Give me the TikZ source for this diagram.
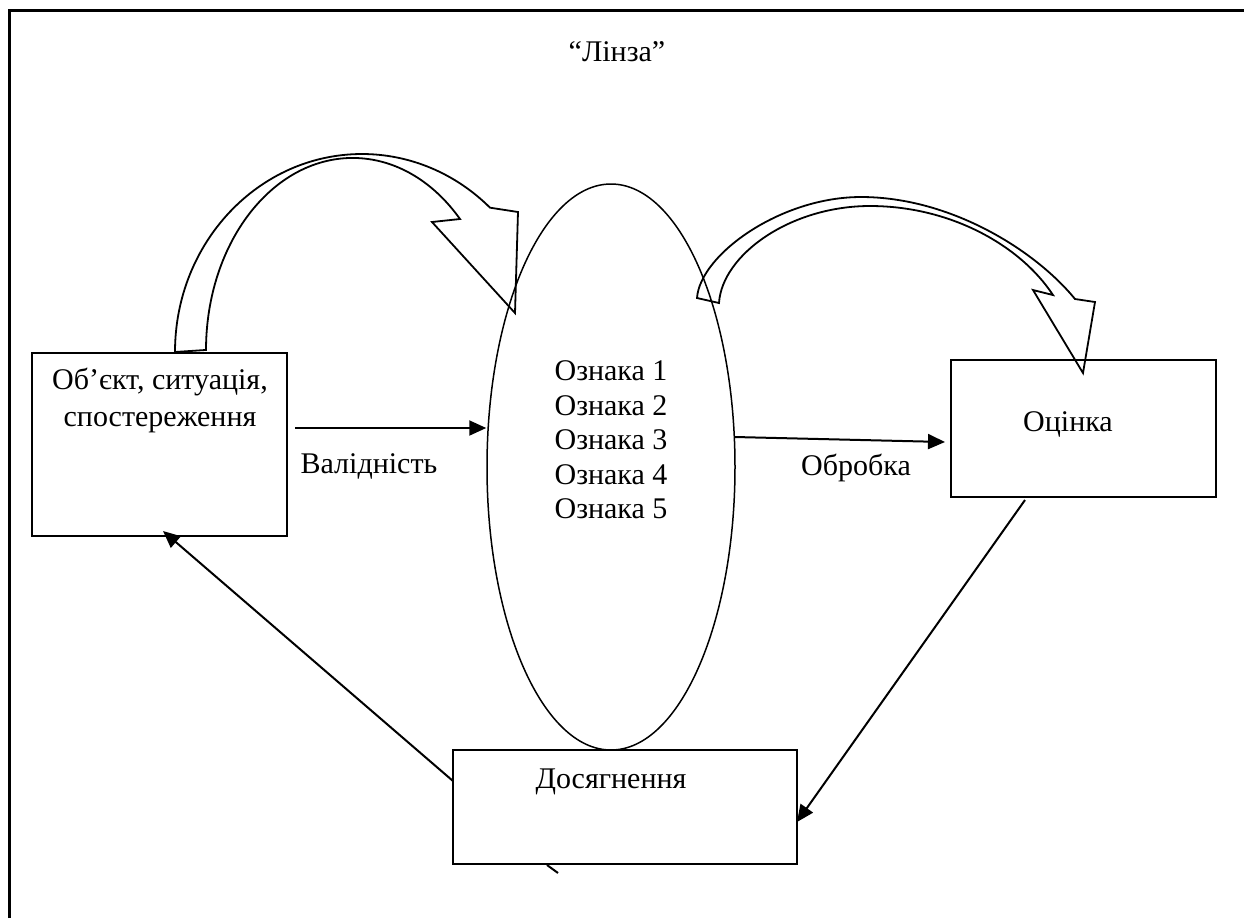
\documentclass[tikz,border=0pt]{standalone}
\usepackage{fontspec}
\setmainfont{Liberation Serif}
\usetikzlibrary{arrows.meta,shapes.geometric}
\begin{document}
\begin{tikzpicture}[x=0.5pt,y=-0.5pt,
  every node/.style={font=\fontsize{15}{17.25}\selectfont},
  boxshape/.style={draw,line width=0.75pt,inner sep=0pt},
  txt/.style={inner sep=0pt,align=center},
  arr/.style={line width=1pt,-{Triangle[length=8.5pt,width=7.5pt]}},
  blk/.style={line width=0.9pt,line join=miter}]
\useasboundingbox (0,0) rectangle (1244,918);
% frame
\draw[line width=1.5pt] (9,918) -- (9,10.5) -- (1244,10.5);
% title
\node[txt] (title) at (617,52) {“Лінза”};
% boxes
\node[boxshape,minimum width=127.5pt,minimum height=91.5pt] (obj) at (159.5,444.5) {};
\node[txt,font=\fontsize{15}{18.5}\selectfont] (objt) at (160,400) {Об’єкт, ситуація,\\спостереження};
\node[boxshape,ellipse,minimum width=124pt,minimum height=283pt] (lens) at (611,467) {};
\node[txt,align=left] (lenst) at (611,440) {Ознака 1\\Ознака 2\\Ознака 3\\Ознака 4\\Ознака 5};
\node[boxshape,minimum width=132.5pt,minimum height=68.5pt] (eval) at (1083.5,428.5) {};
\node[txt] (evalt) at (1068,424) {Оцінка};
\node[boxshape,minimum width=172pt,minimum height=57pt] (ach) at (625,807) {};
\node[txt] (acht) at (611,782) {Досягнення};
% labels
\node[txt] (val) at (369,466) {Валідність};
\node[txt] (proc) at (856,468) {Обробка};
% connectors
\coordinate (a1s) at (295,428);
\draw[arr] (a1s) -- (a1s -| lens.west);
\coordinate (a2s) at (735,437);
\coordinate (a2e) at (945,442);
\draw[arr] (a2s) -- (a2e);
\coordinate (a3s) at (1025,500);
\coordinate (a3e) at (797,822);
\draw[arr] (a3s) -- (a3e);
\coordinate (a4s) at (453,781);
\coordinate (a4e) at (163,531);
\draw[arr] (a4s) -- (a4e);
\coordinate (s1) at (547,865);
\coordinate (s2) at (558,873);
\draw[line width=1pt] (s1) -- (s2);
% curved block arrow 1
\draw[blk] (175,352) arc[start angle=180,end angle=46.8,x radius=93.5pt,y radius=99pt]
  -- (518,212) -- (515,313) -- (432,222) -- (460,219)
  arc[start angle=43,end angle=180,x radius=73.35pt,y radius=96pt] -- cycle;
% curved block arrow 2
\draw[blk] (697,298) .. controls (700,255) and (780,197) .. (861,197)
  .. controls (950,197) and (1035,250) .. (1075,299)
  -- (1095,302) -- (1083,373) -- (1033,290) -- (1053,295)
  .. controls (1020,245) and (950,206) .. (870,206)
  .. controls (790,206) and (722,255) .. (719,303) -- cycle;
\end{tikzpicture}
\end{document}
